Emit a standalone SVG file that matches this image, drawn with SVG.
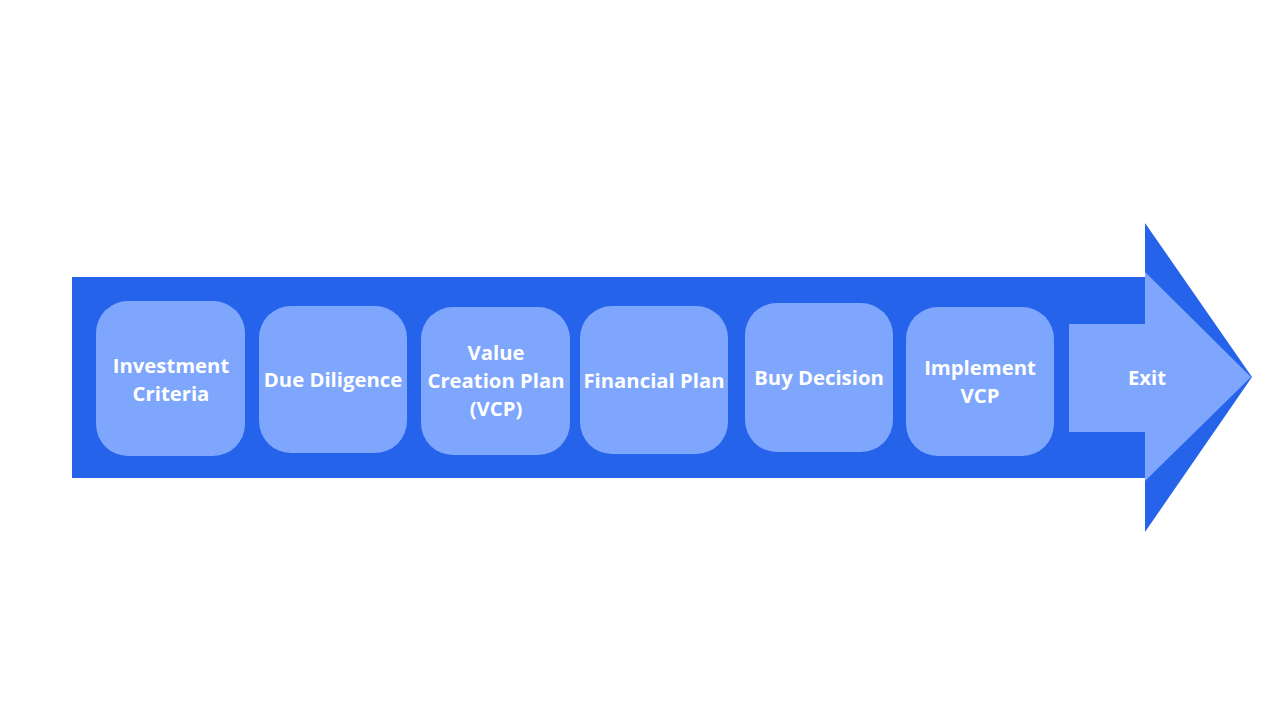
<svg xmlns="http://www.w3.org/2000/svg" width="1280" height="720" viewBox="0 0 1280 720">
<style>
.dark{fill:#2563EB}
.light{fill:#7EA6FC}
.box{fill:#7EA6FC}
.t{font-family:"Open Sans","Liberation Sans",sans-serif;font-weight:700;font-size:20.3px;fill:#FFFFFF;text-anchor:middle;dominant-baseline:central}
</style>
<rect width="1280" height="720" fill="#FFFFFF"/>
<g id="arrow">
<polygon class="dark" points="72,277 1145,277 1145,223 1252,377 1145,532 1145,478 72,478"/>
</g>
<g id="n1"><rect class="box" x="96" y="301" width="149" height="155" rx="32"/><text class="t" x="171" y="365">Investment</text><text class="t" x="171" y="393">Criteria</text></g>
<g id="n2"><rect class="box" x="259" y="306" width="148" height="147" rx="32"/><text class="t" x="333" y="379">Due Diligence</text></g>
<g id="n3"><rect class="box" x="421" y="307" width="149" height="148" rx="32"/><text class="t" x="496" y="352">Value</text><text class="t" x="496" y="380">Creation Plan</text><text class="t" x="496" y="408">(VCP)</text></g>
<g id="n4"><rect class="box" x="580" y="306" width="148" height="148" rx="32"/><text class="t" x="654" y="380">Financial Plan</text></g>
<g id="n5"><rect class="box" x="745" y="303" width="148" height="149" rx="32"/><text class="t" x="819" y="377">Buy Decision</text></g>
<g id="n6"><rect class="box" x="906" y="307" width="148" height="149" rx="32"/><text class="t" x="980" y="367">Implement</text><text class="t" x="980" y="395">VCP</text></g>
<g id="n7"><polygon class="light" points="1069,324 1145,324 1145,272 1251,377 1145,481 1145,432 1069,432"/><text class="t" x="1147" y="377">Exit</text></g>
<g id="connectors"></g>
</svg>
